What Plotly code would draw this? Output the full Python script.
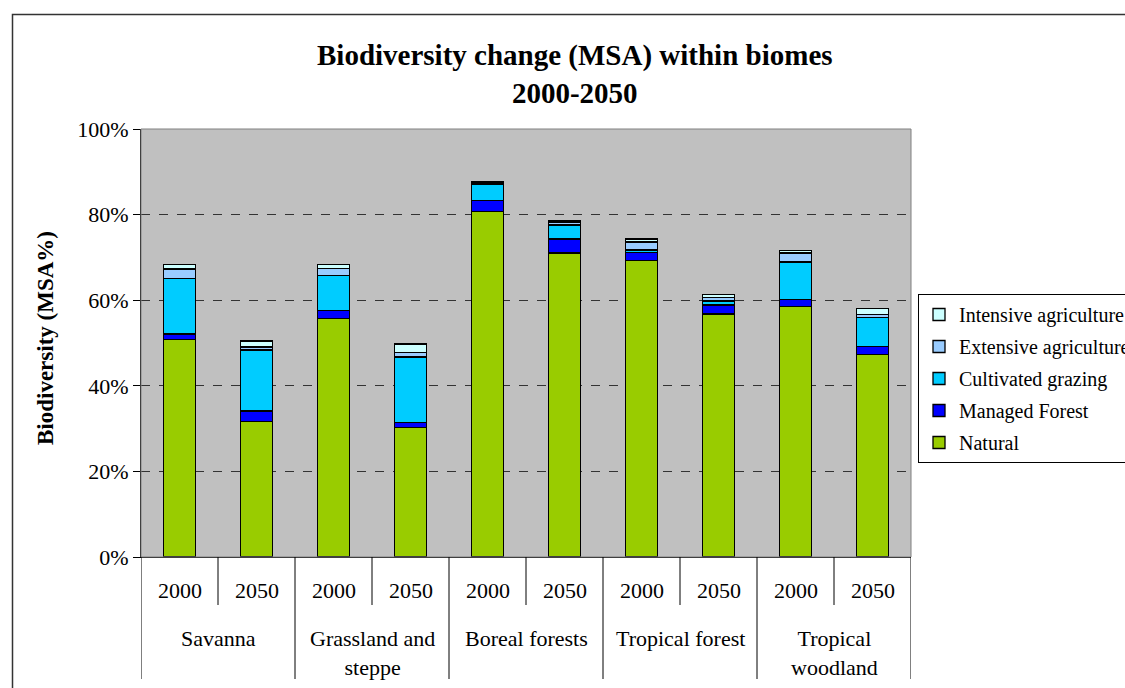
import plotly.graph_objects as go

biomes = ["Savanna", "Grassland and<br>steppe", "Boreal forests", "Tropical forest", "Tropical<br>woodland"]
years = ["2000", "2050"]

natural = [50.9, 31.6, 55.8, 30.3, 80.8, 71.0, 69.2, 56.8, 58.6, 47.3]
managed_forest = [1.2, 2.5, 1.8, 1.1, 2.5, 3.3, 2.0, 2.1, 1.6, 1.9]
cultivated_grazing = [13.0, 14.3, 8.1, 15.3, 3.8, 3.3, 0.5, 0.9, 8.7, 6.8]
extensive_agri = [2.2, 0.7, 1.7, 1.0, 0.3, 0.7, 1.9, 0.8, 2.1, 0.6]
intensive_agri = [1.0, 1.4, 1.0, 2.1, 0.3, 0.4, 0.7, 0.8, 0.6, 1.4]

y_ticks = [0, 20, 40, 60, 80, 100]
y_tick_text = ["0%", "20%", "40%", "60%", "80%", "100%"]

series = [
    ("Natural", natural, "#99CC00"),
    ("Managed Forest", managed_forest, "#0000FF"),
    ("Cultivated grazing", cultivated_grazing, "#00CCFF"),
    ("Extensive agriculture", extensive_agri, "#99CCFF"),
    ("Intensive agriculture", intensive_agri, "#CCFFFF"),
]

FONT = "Liberation Serif, Times New Roman, serif"
n = len(biomes) * len(years)
xs = list(range(n))
year_labels = [years[i % len(years)] for i in xs]

fig = go.Figure()
for rank, (name, vals, col) in enumerate(series):
    fig.add_trace(go.Bar(
        x=xs, y=vals, name=name, legendgroup=name,
        legendrank=1000 - rank,
        marker=dict(color=col, line=dict(color="black", width=1.3)),
        width=0.41,
    ))

# plot area: x 141..911, y 129..557
L, R, T, B = 141, 911, 129, 557
W, H = 1125, 688
pw, ph = R - L, B - T

def px2paper_x(px):
    return (px - L) / pw

def px2paper_y(py):
    return (B - py) / ph

shapes = []
shapes.append(dict(type="rect", xref="paper", yref="paper", x0=0, x1=1, y0=0, y1=1,
                   line=dict(color="#808080", width=1), layer="above"))
shapes.append(dict(type="rect", xref="paper", yref="paper",
                   x0=px2paper_x(12.5), x1=px2paper_x(1160), y0=px2paper_y(720), y1=px2paper_y(14.5),
                   line=dict(color="#333333", width=1.5), layer="above"))
for k in range(n + 1):
    xv = k - 0.5
    is_group = (k % len(years) == 0)
    y_bottom = px2paper_y(679 if is_group else 605)
    shapes.append(dict(type="line", xref="x", yref="paper", x0=xv, x1=xv, y0=0, y1=y_bottom,
                       line=dict(color="black", width=1)))

annotations = []
for i, yl in zip(xs, year_labels):
    annotations.append(dict(x=i, xref="x", y=px2paper_y(590), yref="paper", text=yl,
                            showarrow=False, font=dict(family=FONT, size=22, color="black"),
                            xanchor="center", yanchor="middle"))
for g, b in enumerate(biomes):
    xc = g * len(years) + (len(years) - 1) / 2
    annotations.append(dict(x=xc, xref="x", y=px2paper_y(624), yref="paper", text=b,
                            showarrow=False, font=dict(family=FONT, size=22, color="black"),
                            xanchor="center", yanchor="top"))
annotations.append(dict(x=px2paper_x(575), xref="paper", y=px2paper_y(74), yref="paper",
                        text="<b>Biodiversity change (MSA) within biomes<br>2000-2050</b>",
                        showarrow=False, font=dict(family=FONT, size=29, color="black"),
                        xanchor="center", yanchor="middle"))
annotations.append(dict(x=px2paper_x(45), xref="paper", y=px2paper_y(338), yref="paper",
                        text="<b>Biodiversity (MSA%)</b>", textangle=-90,
                        showarrow=False, font=dict(family=FONT, size=23, color="black"),
                        xanchor="center", yanchor="middle"))

fig.update_layout(
    width=W, height=H,
    margin=dict(l=L, r=W - R, t=T, b=H - B, autoexpand=False),
    barmode="stack",
    paper_bgcolor="white",
    plot_bgcolor="#C0C0C0",
    font=dict(family=FONT, size=22, color="black"),
    showlegend=True,
    legend=dict(
        x=px2paper_x(918), xanchor="left",
        y=px2paper_y(294), yanchor="top",
        traceorder="grouped", tracegroupgap=3,
        bordercolor="black", borderwidth=1, bgcolor="white",
        font=dict(family=FONT, size=20, color="black"),
        itemclick=False,
    ),
    xaxis=dict(
        range=[-0.5, n - 0.5], showticklabels=False, ticks="",
        showline=True, linecolor="black", linewidth=1, showgrid=False, zeroline=False,
        fixedrange=True,
    ),
    yaxis=dict(
        range=[0, 100], tickmode="array", tickvals=y_ticks, ticktext=y_tick_text,
        ticks="outside", ticklen=7, tickcolor="black", tickwidth=1,
        showline=True, linecolor="black", linewidth=1,
        showgrid=True, gridcolor="#333333", griddash="dash", gridwidth=1,
        zeroline=False, tickfont=dict(family=FONT, size=22, color="black"),
        fixedrange=True,
    ),
    shapes=shapes,
    annotations=annotations,
)

fig.write_html("out.html", config={"displayModeBar": False},
               post_script="document.body.style.margin='0px';document.body.style.overflow='hidden';")
